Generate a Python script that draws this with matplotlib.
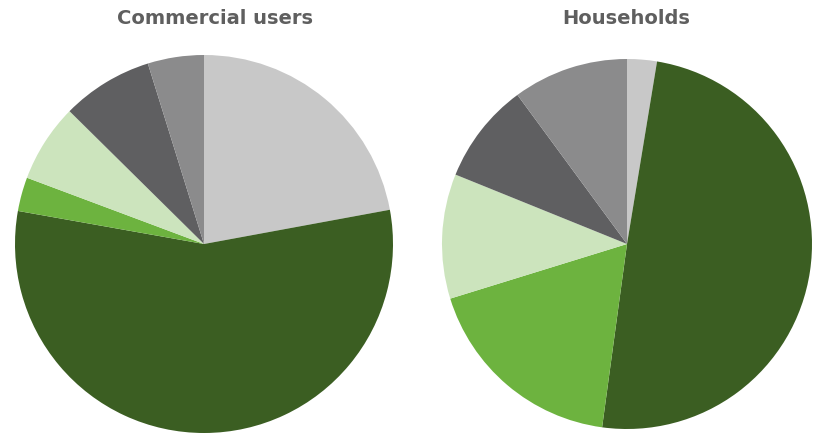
import matplotlib
matplotlib.use("Agg")
import matplotlib.pyplot as plt

categories = ["Cat A", "Cat B", "Cat C", "Cat D", "Cat E", "Cat F"]
commercial = [22.1, 55.7, 2.9, 6.7, 7.8, 4.8]
households = [2.6, 49.6, 18.1, 10.9, 8.8, 10.1]
titles = ["Commercial users", "Households"]

colors = ["#c8c8c8", "#3b5e22", "#6db33f", "#cce4bd", "#5f5f61", "#8b8b8c"]

W, H = 813, 437
fig = plt.figure(figsize=(W / 100, H / 100), dpi=100)

def add_pie(cx, cy, r, values, title, tx):
    ax = fig.add_axes([(cx - r) / W, (H - cy - r) / H, 2 * r / W, 2 * r / H])
    ax.pie(values, colors=colors, startangle=90, counterclock=False,
           radius=1.0, wedgeprops=dict(linewidth=0))
    ax.set_xlim(-1.0, 1.0)
    ax.set_ylim(-1.0, 1.0)
    ax.axis("off")
    fig.text(tx / W, 1 - 18 / H, title, ha="center", va="center",
             fontsize=14, fontweight="bold", color="#5f5f5f",
             family="DejaVu Sans")

add_pie(204, 244, 189, commercial, titles[0], 215)
add_pie(627, 244, 185, households, titles[1], 626)

fig.savefig("out.png", dpi=100)
